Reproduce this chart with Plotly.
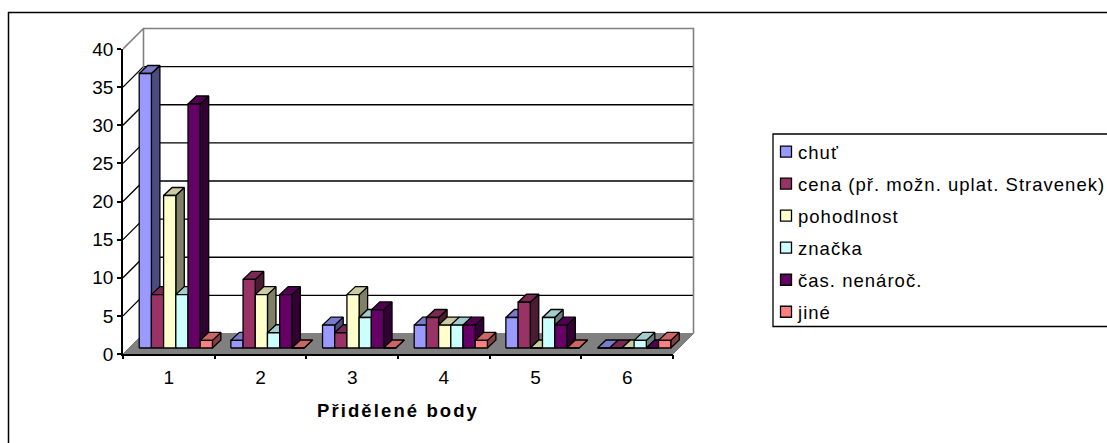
import plotly.graph_objects as go

categories = [1, 2, 3, 4, 5, 6]
y_ticks = [0, 5, 10, 15, 20, 25, 30, 35, 40]
series_names = ["chuť", "cena (př. možn. uplat. Stravenek)", "pohodlnost", "značka", "čas. nenároč.", "jiné"]
chut = [36, 1, 3, 3, 4, 0]
cena = [7, 9, 2, 4, 6, 0]
pohodlnost = [20, 7, 7, 3, 0, 0]
znacka = [7, 2, 4, 3, 4, 1]
cas = [32, 7, 5, 3, 3, 0]
jine = [1, 0, 0, 1, 0, 1]
series_values = [chut, cena, pohodlnost, znacka, cas, jine]
series_colors = [(153, 153, 255), (153, 51, 102), (255, 255, 204), (204, 255, 255), (102, 0, 102), (255, 128, 128)]

W, H = 1107, 443
LEFT, RIGHT, TOP, BOTTOM = 123, 673, 49, 354      # front plane of the axes
PLOT_RIGHT, PLOT_TOP = 702, 22                    # room for the receding walls
PX_X = (RIGHT - LEFT) / len(categories)
PX_Y = (BOTTOM - TOP) / 40

# pseudo-3D projection, expressed in screen pixels
WALL_DEPTH = 20.5
BAR_FRONT_X, BAR_FRONT_Y = 7, 6
BAR_DX, BAR_DY = 8.5, 8
BAR_W = 12.2
BAR_INSET = 9.2


def dx(px):
    return px / PX_X


def dy(px):
    return px / PX_Y


def paper_x(px):
    return (px - LEFT) / (PLOT_RIGHT - LEFT)


def paper_y(py):
    return (BOTTOM - py) / (BOTTOM - PLOT_TOP)


def rgb(c, k=1.0):
    return "rgb({},{},{})".format(*[round(v * k) for v in c])


def polygon_trace(xs, ys, fill, line_color="black", width=1.3):
    return go.Scatter(x=xs, y=ys, mode="lines", fill="toself", fillcolor=fill,
                      line=dict(color=line_color, width=width), xaxis="x3", yaxis="y3",
                      hoverinfo="skip", showlegend=False)


def line_trace(xs, ys, color, width=1.3):
    return go.Scatter(x=xs, y=ys, mode="lines", line=dict(color=color, width=width),
                      xaxis="x3", yaxis="y3", hoverinfo="skip", showlegend=False)


fig = go.Figure()
x0, x1 = 0.5, 6.5
d_x, d_y = dx(WALL_DEPTH), dy(WALL_DEPTH)

# horizontal and diagonal gridlines on the back and left walls
gx, gy = [], []
for v in y_ticks[1:-1]:
    gx += [x0, x0 + d_x, x1 + d_x, None]
    gy += [v, v + d_y, v + d_y, None]
fig.add_trace(line_trace(gx, gy, "black", 1.3))

# wall outline
fig.add_trace(line_trace(
    [x0, x0 + d_x, x1 + d_x, x1 + d_x, None, x0 + d_x, x0 + d_x],
    [40, 40 + d_y, 40 + d_y, d_y, None, 40 + d_y, d_y], "#808080", 1.6))

# floor
fig.add_trace(polygon_trace([x0, x1, x1 + d_x, x0 + d_x, x0], [0, 0, d_y, d_y, 0], "#808080", "#808080", 1))

# bars: painted series by series so later columns cover earlier side faces
base = dy(BAR_FRONT_Y)
ddx, ddy = dx(BAR_DX), dy(BAR_DY)
w = dx(BAR_W)
for s, (values, color) in enumerate(zip(series_values, series_colors)):
    side_x, side_y, top_x, top_y, front_x, front_y = [], [], [], [], [], []
    for cat, v in zip(categories, values):
        a = cat - 0.5 + dx(BAR_FRONT_X + BAR_INSET) + s * w
        b = a + w
        t = v + base
        side_x += [b, b + ddx, b + ddx, b, b, None]
        side_y += [base, base + ddy, t + ddy, t, base, None]
        top_x += [a, b, b + ddx, a + ddx, a, None]
        top_y += [t, t, t + ddy, t + ddy, t, None]
        front_x += [a, b, b, a, a, None]
        front_y += [base, base, t, t, base, None]
    fig.add_trace(polygon_trace(side_x, side_y, rgb(color, 0.5)))
    fig.add_trace(polygon_trace(top_x, top_y, rgb(color, 0.8)))
    fig.add_trace(polygon_trace(front_x, front_y, rgb(color)))

# legend entries
for s, (name, color) in enumerate(zip(series_names, series_colors)):
    fig.add_trace(go.Scatter(
        x=[None], y=[None], mode="markers", name=name, legendgroup=name,
        xaxis="x3", yaxis="y3",
        marker=dict(symbol="square", size=11, color=rgb(color), line=dict(color="black", width=1.3))))

# anchor traces for the value axis and the boundary tick marks of the category axis
fig.add_trace(go.Scatter(x=[None], y=[None], showlegend=False, hoverinfo="skip"))
fig.add_trace(go.Scatter(x=[None], y=[None], xaxis="x2", showlegend=False, hoverinfo="skip"))

FONT = "Liberation Sans"
x_domain = [0, paper_x(RIGHT)]
y_domain = [0, paper_y(TOP)]
fig.update_layout(
    width=W, height=H, autosize=False,
    margin=dict(l=LEFT, r=W - PLOT_RIGHT, t=PLOT_TOP, b=H - BOTTOM, autoexpand=False),
    paper_bgcolor="white", plot_bgcolor="rgba(0,0,0,0)",
    font=dict(family=FONT, size=19, color="black"),
    xaxis=dict(domain=x_domain, range=[x0, x1], tickvals=categories, ticks="", showgrid=False,
               zeroline=False, showline=True, linecolor="black", linewidth=1.5,
               ticklabelstandoff=5, tickfont=dict(size=19),
               title=dict(text="<b>Přidělené body</b>", standoff=18, font=dict(size=18.5))),
    xaxis2=dict(domain=x_domain, range=[x0, x1], anchor="y", side="bottom", overlaying="x",
                tickvals=[c - 0.5 for c in categories] + [x1], ticktext=[""] * 7,
                ticks="outside", ticklen=4, tickcolor="black", tickwidth=1.5,
                showgrid=False, zeroline=False),
    yaxis=dict(domain=y_domain, range=[0, 40], tickvals=y_ticks, ticks="outside", ticklen=4,
               tickcolor="black", tickwidth=1.5, showgrid=False, zeroline=False, showline=True,
               linecolor="black", linewidth=1.5, tickfont=dict(size=19)),
    xaxis3=dict(domain=[0, 1], range=[x0, x0 + (PLOT_RIGHT - LEFT) / PX_X], anchor="y3", visible=False),
    yaxis3=dict(domain=[0, 1], range=[0, (BOTTOM - PLOT_TOP) / PX_Y], anchor="x3", visible=False),
    legend=dict(x=paper_x(758), y=paper_y(133), xanchor="left", yanchor="top",
                bgcolor="rgba(0,0,0,0)", borderwidth=0, tracegroupgap=5,
                font=dict(size=18.5)),
    shapes=[
        dict(type="line", xref="paper", yref="paper", x0=paper_x(8.5), x1=paper_x(8.5),
             y0=paper_y(12), y1=paper_y(H + 2), line=dict(color="black", width=1.5)),
        dict(type="line", xref="paper", yref="paper", x0=paper_x(8), x1=paper_x(W + 2),
             y0=paper_y(12.5), y1=paper_y(12.5), line=dict(color="black", width=1.5)),
        dict(type="rect", xref="paper", yref="paper", x0=paper_x(773), x1=paper_x(W + 5),
             y0=paper_y(134), y1=paper_y(326.5), line=dict(color="black", width=1.3)),
    ],
)

# text tracking and legend swatch offset are not exposed as layout attributes
post = """
var gd = document.getElementById('{plot_id}');
gd.querySelectorAll('.legendtext').forEach(function(t){ t.style.letterSpacing = '1.02px'; });
gd.querySelectorAll('.xtitle').forEach(function(t){ t.style.letterSpacing = '2.1px'; });
gd.querySelectorAll('.legendsymbols').forEach(function(t){ t.setAttribute('transform', 'translate(8,0)'); });
gd.querySelectorAll('.legend .scrollbox').forEach(function(t){ t.removeAttribute('clip-path'); });
gd.querySelectorAll('.legend').forEach(function(t){ t.removeAttribute('clip-path'); });
"""
fig.write_html("out.html", post_script=post, config=dict(displayModeBar=False))
